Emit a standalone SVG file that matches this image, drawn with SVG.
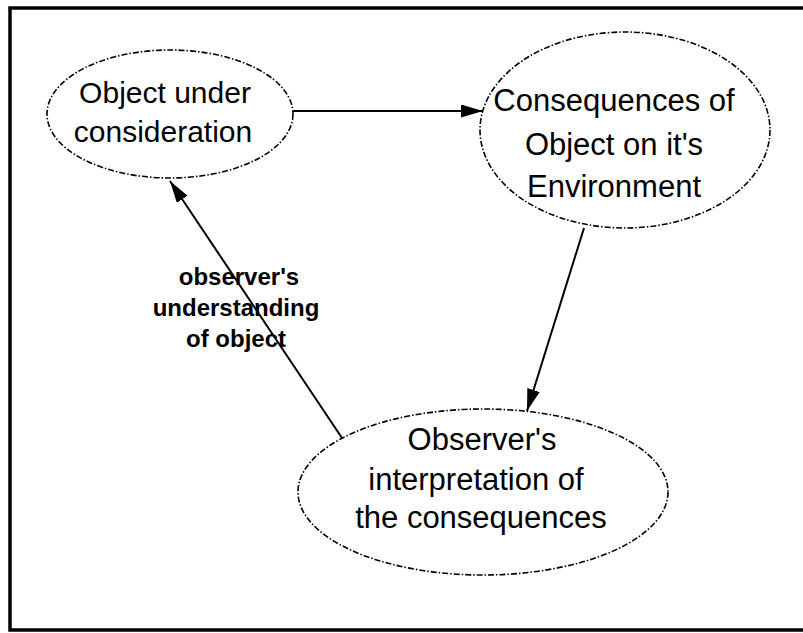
<svg xmlns="http://www.w3.org/2000/svg" width="803" height="633" viewBox="0 0 803 633">
  <defs>
    <marker id="arrow" markerUnits="userSpaceOnUse" markerWidth="24" markerHeight="14" refX="22" refY="6.5" orient="auto">
      <path d="M0,0 L22,6.5 L0,13 z" fill="#000"/>
    </marker>
    <style>
      .node ellipse { fill: none; stroke: #000; stroke-width: 1.6; stroke-dasharray: 6 2 1.5 2; }
      .node text { font-family: "Liberation Sans", Arial, sans-serif; font-size: 30px; fill: #000; text-anchor: middle; }
      .node text.big { font-size: 31px; }
      .edge { stroke: #000; stroke-width: 2; fill: none; marker-end: url(#arrow); }
      .edge-label { font-family: "Liberation Sans", Arial, sans-serif; font-size: 24px; font-weight: bold; fill: #000; text-anchor: middle; }
    </style>
  </defs>

  <rect width="803" height="633" fill="#fff"/>

  <!-- frame (right side runs off the page) -->
  <path d="M803,8 H10 V630 H803" fill="none" stroke="#000" stroke-width="3.5"/>

  <g id="object" class="node">
    <ellipse cx="170" cy="114" rx="123" ry="64"/>
    <text x="165" y="103">Object under</text>
    <text x="163" y="142">consideration</text>
  </g>

  <g id="consequences" class="node">
    <ellipse cx="625" cy="130" rx="145" ry="98"/>
    <text class="big" x="614" y="111">Consequences of</text>
    <text class="big" x="614" y="155">Object on it's</text>
    <text class="big" x="614" y="197">Environment</text>
  </g>

  <g id="interpretation" class="node">
    <ellipse cx="483" cy="492" rx="185" ry="83"/>
    <text class="big" x="482" y="450">Observer's</text>
    <text class="big" x="476" y="490">interpretation of</text>
    <text class="big" x="481" y="528">the consequences</text>
  </g>

  <g id="connectors">
    <line class="edge" x1="293" y1="111" x2="483" y2="111"/>
    <line class="edge" x1="584" y1="228" x2="527" y2="411"/>
    <line class="edge" x1="342" y1="438" x2="170" y2="181"/>
    <text class="edge-label" x="239" y="285">observer's</text>
    <text class="edge-label" x="236" y="316">understanding</text>
    <text class="edge-label" x="236" y="347">of object</text>
  </g>
</svg>
